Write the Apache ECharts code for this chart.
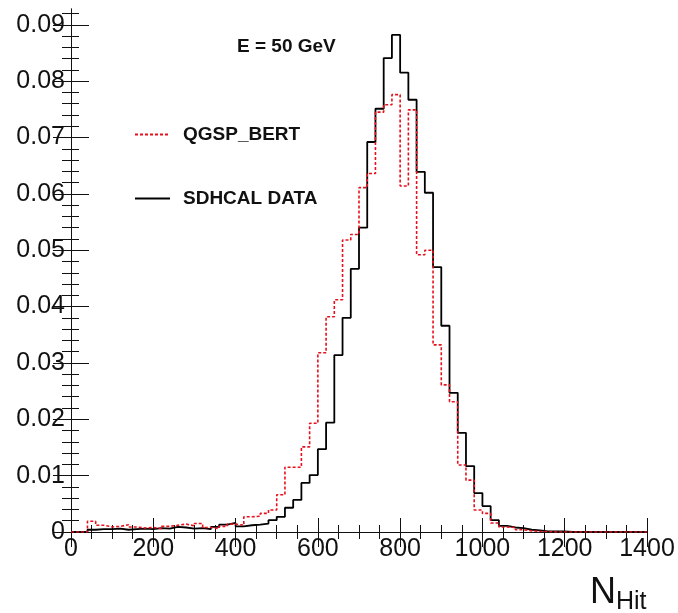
<!DOCTYPE html>
<html>
<head>
<meta charset="utf-8">
<script src="https://cdn.jsdelivr.net/npm/echarts@6/dist/echarts.min.js"></script>
<style>
  html, body { margin: 0; padding: 0; background: #ffffff; }
  #chart { width: 678px; height: 613px; }
</style>
</head>
<body>
<div id="chart"></div>
<script>
// Histogram binning: 70 bins of 20 hits from 0 to 1400
const binStart = 0;
const binWidth = 20;

// Normalised N_Hit distribution, SDHCAL test-beam data (one value per bin)
const sdhcalData = [
  0, 0, 0.0004, 0.0005, 0.0005, 0.0006, 0.0004, 0.0005, 0.0006, 0.0005,
  0.0007, 0.0006, 0.0009, 0.0008, 0.0006, 0.0007, 0.0005, 0.0009, 0.0013, 0.0016,
  0.0010, 0.0012, 0.0013, 0.0015, 0.0021, 0.0027, 0.0043, 0.0057, 0.0087, 0.0101,
  0.0147, 0.0194, 0.0314, 0.0380, 0.0467, 0.0540, 0.0692, 0.0751, 0.0841, 0.0882,
  0.0815, 0.0767, 0.0639, 0.0602, 0.0470, 0.0366, 0.0247, 0.0176, 0.0117, 0.0069,
  0.0046, 0.0021, 0.0011, 0.0008, 0.0007, 0.0004, 0.0003, 0.0001, 0.0001, 0.0001,
  0, 0, 0, 0, 0, 0, 0, 0, 0, 0
];

// Same distribution from the QGSP_BERT simulation
const qgspBert = [
  0, 0, 0.0019, 0.0012, 0.0009, 0.0010, 0.0013, 0.0009, 0.0007, 0.0008,
  0.0006, 0.0010, 0.0012, 0.0014, 0.0011, 0.0015, 0.0008, 0.0006, 0.0010, 0.0014,
  0.0012, 0.0027, 0.0028, 0.0033, 0.0039, 0.0066, 0.0115, 0.0115, 0.0151, 0.0193,
  0.0318, 0.0382, 0.0412, 0.0518, 0.0528, 0.0611, 0.0636, 0.0745, 0.0758, 0.0776,
  0.0614, 0.0749, 0.0492, 0.0500, 0.0332, 0.0261, 0.0231, 0.0119, 0.0092, 0.0039,
  0.0033, 0.0016, 0.0009, 0.0008, 0.0004, 0.0002, 0.0001, 0.0001, 0, 0,
  0, 0, 0, 0, 0, 0, 0, 0, 0, 0
];

// Axis ticks
const xTickLabels = [0, 200, 400, 600, 800, 1000, 1200, 1400];
const yTickLabels = [0, 0.01, 0.02, 0.03, 0.04, 0.05, 0.06, 0.07, 0.08, 0.09];
const xMinorStep = 50;
const yMinorStep = 0.002;
const xMax = 1400;
const yMax = 0.0928;

const minorX = [];
for (let v = 0; v <= xMax; v += xMinorStep) minorX.push(v);
const minorY = [];
for (let k = 0; k * yMinorStep <= yMax + 1e-9; k++) minorY.push(+(k * yMinorStep).toFixed(4));

// Step-histogram points: left edge of each bin, plus closing right edge
function toSteps(values) {
  const pts = values.map((v, i) => [binStart + i * binWidth, v]);
  pts.push([binStart + values.length * binWidth, values[values.length - 1]]);
  return pts;
}

const frame = { show: true, lineStyle: { color: '#111', width: 1 } };
const noLine = { show: false };
const labelFont = { fontFamily: 'Liberation Sans, Arial, sans-serif', fontSize: 25, color: '#111' };

function xAxisDef(position, ticks, len, withLabels, line) {
  return {
    type: 'value', position: position, min: 0, max: xMax,
    axisLine: line ? frame : noLine,
    axisTick: { show: true, inside: true, length: len, customValues: ticks,
                lineStyle: { color: '#111', width: 1 } },
    axisLabel: withLabels
      ? Object.assign({ show: true, customValues: xTickLabels, margin: 5,
          formatter: v => String(v) }, labelFont)
      : { show: false },
    splitLine: { show: false }
  };
}

function yAxisDef(position, ticks, len, withLabels, line) {
  return {
    type: 'value', position: position, min: 0, max: yMax,
    axisLine: line ? frame : noLine,
    axisTick: { show: true, inside: true, length: len, customValues: ticks,
                lineStyle: { color: '#111', width: 1 } },
    axisLabel: withLabels
      ? Object.assign({ show: true, customValues: yTickLabels, margin: 6,
          formatter: v => (v === 0 ? '0' : v.toFixed(2)) }, labelFont)
      : { show: false },
    splitLine: { show: false }
  };
}

const chart = echarts.init(document.getElementById('chart'), null, { renderer: 'canvas' });

chart.setOption({
  backgroundColor: '#ffffff',
  animation: false,
  grid: { left: 71, right: 31, top: 9, bottom: 81, containLabel: false },
  title: {
    text: 'E = 50 GeV', left: 237, top: 37, padding: 0,
    textStyle: { fontFamily: 'Liberation Sans, Arial, sans-serif', fontSize: 19,
                 fontWeight: 'bold', color: '#111' }
  },
  legend: {
    orient: 'vertical', left: 129, top: 120, itemGap: 45,
    itemWidth: 35, itemHeight: 20, selectedMode: false,
    itemStyle: { opacity: 0 },
    data: ['QGSP_BERT', 'SDHCAL DATA'],
    textStyle: { fontFamily: 'Liberation Sans, Arial, sans-serif', fontSize: 19,
                 fontWeight: 'bold', color: '#111', padding: [0, 0, 0, 8] }
  },
  xAxis: [
    xAxisDef('bottom', xTickLabels, 14, true, true),
    xAxisDef('bottom', minorX, 7, false, false),
    xAxisDef('top', xTickLabels, 15, false, true),
    xAxisDef('top', minorX, 7, false, false)
  ],
  yAxis: [
    yAxisDef('left', yTickLabels, 18, true, true),
    yAxisDef('left', minorY, 8, false, false),
    yAxisDef('right', yTickLabels, 18, false, true),
    yAxisDef('right', minorY, 9, false, false)
  ],
  series: [
    {
      name: 'SDHCAL DATA', type: 'line', step: 'end', symbol: 'none',
      xAxisIndex: 0, yAxisIndex: 0,
      lineStyle: { color: '#000000', width: 1.8, type: 'solid' },
      itemStyle: { color: '#000000' },
      data: toSteps(sdhcalData)
    },
    {
      name: 'QGSP_BERT', type: 'line', step: 'end', symbol: 'none',
      xAxisIndex: 0, yAxisIndex: 0,
      lineStyle: { color: '#e8101c', width: 1.6, type: [3, 2] },
      itemStyle: { color: '#e8101c' },
      data: toSteps(qgspBert)
    }
  ],
  graphic: [
    { type: 'text', left: 590, top: 575,
      style: { text: 'N', font: '36px "Liberation Sans", Arial, sans-serif', fill: '#111' } },
    { type: 'text', left: 616, top: 590,
      style: { text: 'Hit', font: '25px "Liberation Sans", Arial, sans-serif', fill: '#111' } }
  ]
});
</script>
</body>
</html>
